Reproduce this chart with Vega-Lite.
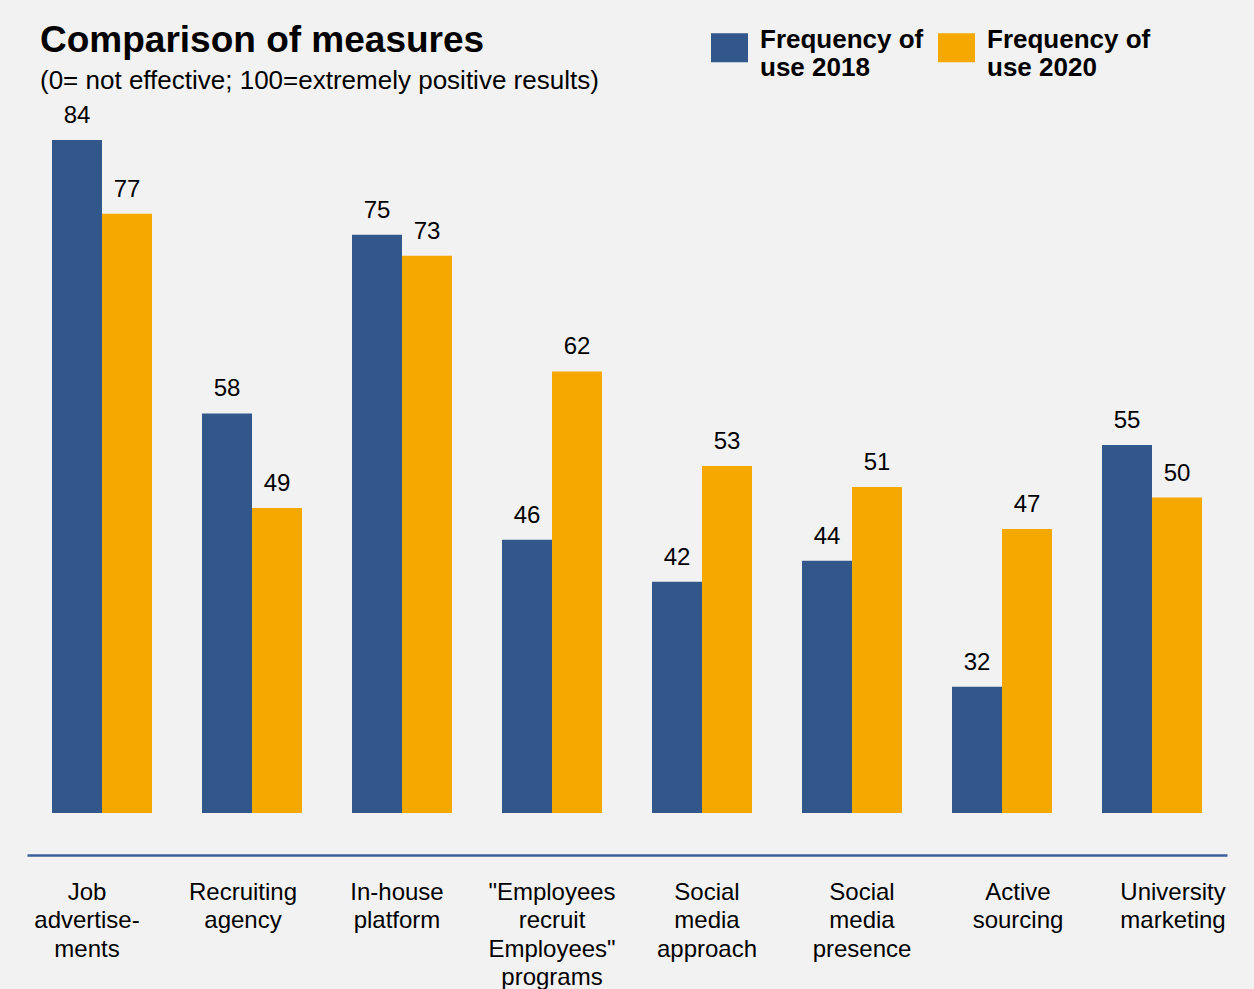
{
  "$schema": "https://vega.github.io/schema/vega-lite/v6.json",
  "width": 1200,
  "height": 736,
  "autosize": "none",
  "padding": {"left": 27, "top": 77, "right": 27, "bottom": 176},
  "background": "#f2f2f2",
  "title": {
    "text": "Comparison of measures",
    "subtitle": "(0= not effective; 100=extremely positive results)",
    "anchor": "start",
    "frame": "group",
    "orient": "top",
    "font": "Liberation Sans",
    "fontSize": 37,
    "fontWeight": "bold",
    "color": "#000000",
    "subtitleFont": "Liberation Sans",
    "subtitleFontSize": 26,
    "subtitleColor": "#000000",
    "subtitlePadding": 8,
    "dx": 13,
    "offset": -66
  },
  "data": {
    "values": [
      {"measure": "Job\nadvertise-\nments", "year": "2018", "value": 84},
      {"measure": "Job\nadvertise-\nments", "year": "2020", "value": 77},
      {"measure": "Recruiting\nagency", "year": "2018", "value": 58},
      {"measure": "Recruiting\nagency", "year": "2020", "value": 49},
      {"measure": "In-house\nplatform", "year": "2018", "value": 75},
      {"measure": "In-house\nplatform", "year": "2020", "value": 73},
      {"measure": "\"Employees\nrecruit\nEmployees\"\nprograms", "year": "2018", "value": 46},
      {"measure": "\"Employees\nrecruit\nEmployees\"\nprograms", "year": "2020", "value": 62},
      {"measure": "Social\nmedia\napproach", "year": "2018", "value": 42},
      {"measure": "Social\nmedia\napproach", "year": "2020", "value": 53},
      {"measure": "Social\nmedia\npresence", "year": "2018", "value": 44},
      {"measure": "Social\nmedia\npresence", "year": "2020", "value": 51},
      {"measure": "Active\nsourcing", "year": "2018", "value": 32},
      {"measure": "Active\nsourcing", "year": "2020", "value": 47},
      {"measure": "University\nmarketing", "year": "2018", "value": 55},
      {"measure": "University\nmarketing", "year": "2020", "value": 50}
    ]
  },
  "encoding": {
    "x": {
      "field": "measure",
      "type": "nominal",
      "sort": null,
      "scale": {"paddingInner": 0.3333333, "paddingOuter": 0.1666667},
      "axis": {
        "title": null,
        "orient": "bottom",
        "offset": 42,
        "domain": true,
        "domainColor": "#3b5f9b",
        "domainWidth": 2.5,
        "ticks": false,
        "labelAngle": 0,
        "labelFont": "Liberation Sans",
        "labelFontSize": 24,
        "labelColor": "#000000",
        "labelPadding": 25,
        "labelLineHeight": 28.5,
        "labelOverlap": false,
        "labelBound": false,
        "labelFlush": false,
        "labelLimit": 0,
        "labelExpr": "split(datum.label, '\\n')",
        "labelOffset": {
          "condition": [
            {"test": "indexof(datum.value, 'Job') === 0", "value": -15},
            {"test": "indexof(datum.value, 'Recruiting') === 0", "value": -9},
            {"test": "indexof(datum.value, 'In-house') === 0", "value": -5},
            {"test": "indexof(datum.value, 'approach') >= 0", "value": 5},
            {"test": "indexof(datum.value, 'presence') >= 0", "value": 10},
            {"test": "indexof(datum.value, 'Active') === 0", "value": 16},
            {"test": "indexof(datum.value, 'University') === 0", "value": 21}
          ],
          "value": 0
        }
      }
    },
    "xOffset": {"field": "year", "type": "nominal", "scale": {"paddingInner": 0, "paddingOuter": 0}},
    "y": {
      "field": "value",
      "type": "quantitative",
      "scale": {"domain": [20, 90], "zero": false, "nice": false},
      "axis": null
    }
  },
  "layer": [
    {
      "mark": {"type": "bar", "strokeWidth": 0},
      "encoding": {
        "y2": {"datum": 20},
        "color": {
          "field": "year",
          "type": "nominal",
          "scale": {"domain": ["2018", "2020"], "range": ["#32578b", "#f5a800"]},
          "legend": {
            "title": null,
            "orient": "none",
            "legendX": 684,
            "legendY": -48,
            "direction": "horizontal",
            "columns": 2,
            "columnPadding": 14,
            "symbolType": "M-1,-0.784H1V0.784H-1Z",
            "symbolSize": 1369,
            "symbolStrokeWidth": 0,
            "symbolOpacity": 1,
            "labelFont": "Liberation Sans",
            "labelFontSize": 26,
            "labelFontWeight": "bold",
            "labelColor": "#000000",
            "labelBaseline": "alphabetic",
            "labelOffset": 12,
            "labelLimit": 0,
            "labelLineHeight": 30,
            "labelExpr": "['Frequency of', 'use ' + datum.label]"
          }
        }
      }
    },
    {
      "mark": {"type": "text", "baseline": "alphabetic", "dy": -17, "font": "Liberation Sans", "fontSize": 24, "color": "#000000"},
      "encoding": {
        "text": {"field": "value", "type": "quantitative"}
      }
    }
  ],
  "config": {"view": {"stroke": null}}
}
